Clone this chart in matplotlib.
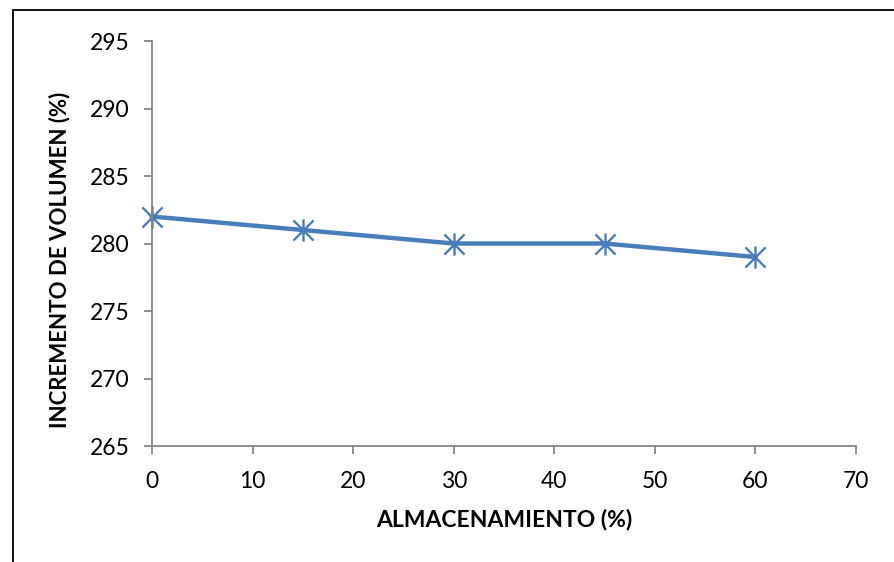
import matplotlib.pyplot as plt
from matplotlib.path import Path
from matplotlib.patches import Rectangle

# Volume increase vs storage
almacenamiento = [0, 15, 30, 45, 60]
incremento = [282, 281, 280, 280, 279]
x_ticks = [0, 10, 20, 30, 40, 50, 60, 70]
y_ticks = [265, 270, 275, 280, 285, 290, 295]

plt.rcParams['font.family'] = ['Lato', 'DejaVu Sans']

# Excel-like star marker: an X plus a vertical stroke
star = Path([(-1, -1), (1, 1), (-1, 1), (1, -1), (0, -1.1), (0, 1.1)],
            [Path.MOVETO, Path.LINETO, Path.MOVETO, Path.LINETO, Path.MOVETO, Path.LINETO])

fig = plt.figure(figsize=(8.94, 5.62), dpi=100)
ax = fig.add_axes([0.170, 0.2064, 0.7875, 0.7206])

blue = '#4A7EBB'
ax.plot(almacenamiento, incremento, color=blue, linewidth=3.2,
        marker=star, markersize=16, markeredgewidth=1.7,
        markeredgecolor=blue, markerfacecolor='none', clip_on=False)

ax.set_xlim(0, 70)
ax.set_ylim(265, 295)
ax.set_xticks(x_ticks)
ax.set_yticks(y_ticks)

gray = '#868686'
for side in ['top', 'right']:
    ax.spines[side].set_visible(False)
for side in ['left', 'bottom']:
    ax.spines[side].set_color(gray)
    ax.spines[side].set_linewidth(1.3)
ax.tick_params(axis='both', colors=gray, labelcolor='black', labelsize=16.5,
               length=6, width=1.3, direction='out')
ax.tick_params(axis='x', pad=12)
ax.tick_params(axis='y', pad=10)

ax.set_xlabel('ALMACENAMIENTO (%)', fontsize=16.5, fontweight='bold', labelpad=12)
ax.set_ylabel('INCREMENTO DE VOLUMEN (%)', fontsize=16, fontweight='bold', labelpad=14)
ax.yaxis.label.set_y(0.459)

# Chart area border
fig.patches.append(Rectangle((13 / 894, -0.1), 1.2, 1.1 - 10 / 562,
                             transform=fig.transFigure, fill=False,
                             edgecolor='black', linewidth=1.3))

fig.savefig('out.png', dpi=100)
